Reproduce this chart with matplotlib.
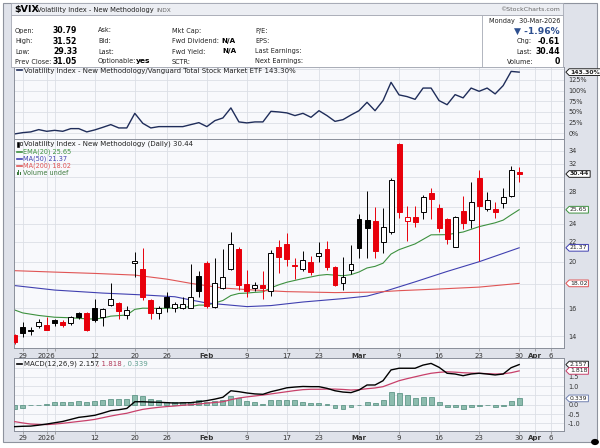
import matplotlib
matplotlib.use("Agg")
import matplotlib.pyplot as plt
import matplotlib.transforms as mtransforms
from matplotlib.patches import Rectangle, Circle
from matplotlib.lines import Line2D
from matplotlib.path import Path
import numpy as np
import pandas as pd

# daily candles 26-Dec-2025 .. 30-Mar-2026
opens = [14.07, 14.64, 14.38, 14.68, 14.76, 15.09, 14.99, 14.92, 15.66, 15.66,
         15.99, 15.31, 16.27, 16.43, 15.45, 19.85, 19.28, 16.60, 15.66, 16.85,
         16.00, 16.05, 16.00, 18.67, 19.90, 16.12, 17.60, 19.33, 21.22, 17.96,
         17.60, 17.90, 17.40, 21.43, 21.74, 19.72, 19.31, 19.97, 20.52, 21.21,
         19.52, 18.02, 19.21, 24.54, 24.42, 24.30, 22.01, 23.09, 35.16, 24.30,
         24.80, 25.34, 27.83, 25.84, 24.50, 21.43, 25.50, 24.42, 29.80, 25.74,
         25.71, 26.46, 27.40, 30.79]
highs = [14.15, 14.99, 14.60, 15.17, 15.36, 15.20, 15.10, 15.40, 15.74, 15.74,
         16.69, 16.00, 18.08, 16.50, 16.20, 20.98, 21.35, 16.70, 16.20, 17.32,
         16.50, 16.90, 19.75, 19.15, 20.10, 20.32, 21.22, 23.09, 21.45, 19.23,
         18.10, 19.14, 21.15, 22.19, 22.91, 20.33, 21.08, 20.52, 22.01, 22.11,
         19.59, 20.47, 21.66, 25.13, 28.10, 26.04, 25.84, 29.80, 35.38, 26.11,
         26.11, 27.53, 28.43, 26.36, 24.60, 24.89, 27.40, 29.34, 31.04, 27.97,
         26.66, 28.43, 31.64, 31.52]
lows = [13.50, 13.95, 14.07, 14.53, 14.40, 14.68, 14.64, 14.74, 15.20, 14.36,
        14.99, 14.68, 16.20, 15.20, 15.20, 18.60, 16.65, 15.20, 15.20, 15.74,
        15.74, 15.95, 16.00, 16.90, 16.00, 16.00, 17.55, 19.20, 17.45, 16.90,
        17.35, 16.70, 16.95, 18.90, 19.59, 18.39, 19.15, 18.75, 19.99, 19.21,
        17.83, 17.45, 18.85, 20.33, 20.33, 20.33, 20.88, 22.83, 24.65, 22.11,
        23.58, 24.50, 24.50, 23.09, 21.74, 21.43, 23.36, 23.46, 20.09, 25.50,
        24.62, 25.90, 27.30, 29.33]
closes = [13.60, 14.19, 14.35, 14.95, 14.44, 14.87, 14.73, 15.31, 15.36, 14.41,
          15.11, 15.92, 16.72, 15.75, 15.85, 20.05, 16.85, 15.62, 16.04, 16.12,
          16.30, 16.35, 16.85, 17.37, 16.20, 18.02, 18.60, 21.73, 17.88, 17.40,
          17.88, 17.65, 20.82, 20.47, 20.25, 19.55, 20.16, 19.07, 20.88, 19.52,
          17.87, 18.54, 19.75, 21.32, 23.46, 21.08, 23.64, 29.62, 25.41, 24.80,
          24.15, 27.23, 27.01, 23.46, 22.30, 24.77, 24.03, 26.66, 26.11, 26.88,
          25.34, 27.30, 31.05, 30.44]

# $VIX : VTI ratio, % change
ratio_pct = [-1.4, 1.6, 3.3, 8.7, 4.7, 7.0, 4.7, 11.0, 11.0, 3.3,
             8.0, 14.0, 20.4, 12.6, 12.6, 46.8, 23.4, 12.6, 15.7, 15.7,
             15.7, 15.7, 20.4, 25.0, 15.7, 29.7, 36.0, 59.5, 26.7, 24.4,
             26.7, 26.7, 51.5, 50.0, 47.8, 41.5, 46.8, 37.5, 53.0, 41.5,
             28.0, 32.0, 43.0, 53.0, 72.6, 53.0, 76.6, 119.4, 90.0, 86.0,
             79.6, 106.0, 106.0, 76.6, 67.0, 90.6, 83.0, 106.0, 98.4, 106.0,
             92.3, 111.7, 145.0, 143.3]

# overlays (day index, value)
ema20_at = [0, 1, 3, 5, 7, 9, 10, 11, 12, 13, 14, 15, 16, 18, 20, 22, 23, 24, 25, 26,
            27, 28, 29, 30, 31, 32, 33, 34, 36, 38, 39, 41, 42, 43, 44, 45, 46, 47, 48, 50,
            52, 54, 56, 58, 60, 61, 62, 63]
ema20 = [15.86, 15.64, 15.45, 15.32, 15.28, 15.20, 15.19, 15.26, 15.40, 15.44,
         15.48, 15.91, 16.00, 15.98, 16.01, 16.12, 16.24, 16.23, 16.40, 16.60,
         17.00, 17.17, 17.20, 17.26, 17.30, 17.64, 17.90, 18.12, 18.44, 18.73,
         18.80, 18.69, 18.79, 19.03, 19.40, 19.55, 19.85, 20.74, 21.18, 21.77,
         22.74, 22.76, 23.05, 23.65, 24.09, 24.40, 25.03, 25.65]
ma50_at = [0, 5, 11, 16, 20, 22, 24, 29, 32, 36, 41, 44, 46, 50, 54, 58, 63]
ma50 = [17.83, 17.45, 17.20, 17.05, 16.90, 16.64, 16.40, 16.12, 16.20, 16.48,
        16.75, 16.95, 17.30, 18.15, 19.08, 19.99, 21.37]
ma200_at = [0, 5, 10, 15, 19, 22, 26, 30, 34, 40, 45, 48, 53, 58, 63]
ma200 = [19.15, 19.02, 18.90, 18.75, 18.39, 18.02, 17.62, 17.45, 17.32, 17.24,
         17.28, 17.40, 17.54, 17.70, 18.02]

macd = [-1.18, -1.16, -1.15, -1.10, -1.04, -0.97, -0.90, -0.79, -0.68, -0.63,
        -0.57, -0.45, -0.32, -0.27, -0.20, 0.16, 0.16, 0.14, 0.13, 0.11,
        0.09, 0.10, 0.11, 0.16, 0.22, 0.30, 0.40, 0.75, 0.70, 0.63,
        0.58, 0.56, 0.70, 0.80, 0.91, 0.95, 0.98, 0.97, 0.97, 0.88,
        0.75, 0.68, 0.65, 0.79, 1.06, 1.06, 1.29, 1.87, 1.96, 1.96,
        1.96, 2.13, 2.22, 2.01, 1.69, 1.65, 1.56, 1.65, 1.69, 1.65,
        1.60, 1.65, 1.99, 2.157]
macd_signal = [-0.91, -0.98, -1.04, -1.06, -1.07, -1.04, -1.00, -0.95, -0.90, -0.85,
               -0.79, -0.70, -0.61, -0.53, -0.46, -0.35, -0.25, -0.19, -0.14, -0.10,
               -0.07, -0.03, 0.00, 0.04, 0.08, 0.12, 0.16, 0.27, 0.36, 0.42,
               0.47, 0.52, 0.58, 0.64, 0.70, 0.76, 0.81, 0.83, 0.83, 0.84,
               0.84, 0.82, 0.79, 0.81, 0.86, 0.90, 0.97, 1.13, 1.29, 1.40,
               1.50, 1.60, 1.69, 1.74, 1.77, 1.75, 1.72, 1.70, 1.69, 1.67,
               1.65, 1.66, 1.72, 1.818]
macd_hist = [-0.22, -0.16, -0.04, -0.02, 0.02, 0.13, 0.14, 0.16, 0.20, 0.16,
             0.20, 0.25, 0.32, 0.32, 0.30, 0.54, 0.45, 0.30, 0.23, 0.16,
             0.14, 0.14, 0.16, 0.23, 0.14, 0.20, 0.27, 0.45, 0.36, 0.18,
             0.13, 0.05, 0.23, 0.27, 0.27, 0.23, 0.14, 0.07, 0.10, 0.04,
             -0.18, -0.22, -0.14, -0.04, 0.14, 0.10, 0.25, 0.66, 0.63, 0.54,
             0.36, 0.39, 0.39, 0.14, -0.14, -0.14, -0.23, -0.11, -0.05, -0.04,
             -0.11, -0.07, 0.18, 0.339]

tick_days = ["2025-12-29", "2026-01-02", "2026-01-12", "2026-01-20", "2026-01-26",
             "2026-02-02", "2026-02-09", "2026-02-17", "2026-02-23", "2026-03-02",
             "2026-03-09", "2026-03-16", "2026-03-23", "2026-03-30", "2026-04-01",
             "2026-04-06", "2026-01-05"]
tick_labels = ["29", "2026", "12", "20", "26", "Feb", "9", "17", "23", "Mar",
               "9", "16", "23", "30", "Apr", "6", ""]
holidays = ["2026-01-01", "2026-01-19", "2026-02-16", "2026-04-03"]

# right-axis levels (labels hidden under the value tags stay blank)
price_levels = [14, 16, 18, 20, 22, 24, 26, 28, 30, 32, 34]
price_labels = ["14", "16", "", "20", "22", "24", "", "28", "", "32", "34"]
ratio_levels = [0, 25, 50, 75, 100, 125, 150]
ratio_labels = ["0%", "25%", "50%", "75%", "100%", "125%", ""]
macd_levels = [-1.0, -0.5, 0.0, 0.5, 1.0, 1.5, 2.0]
macd_labels = ["-1.0", "-0.5", "0.0", "", "1.0", "1.5", ""]

days = pd.bdate_range("2025-12-26", "2026-04-10")
days = days[~days.isin(pd.to_datetime(holidays))]
dpos = {d.strftime("%Y-%m-%d"): i for i, d in enumerate(days)}
xt = [dpos[d] for d in tick_days]

plt.rcParams["font.family"] = "DejaVu Sans"
W, H = 600, 448
fig = plt.figure(figsize=(6, 4.48), dpi=100, facecolor="white")


def prect(x0, y0, x1, y1, **kw):
    fig.add_artist(Rectangle((x0 / W, 1 - y1 / H), (x1 - x0) / W, (y1 - y0) / H,
                             transform=fig.transFigure, **kw))


def ptext(x, y, s, **kw):
    kw.setdefault("va", "center")
    kw.setdefault("fontsize", 4.7)
    kw.setdefault("color", "#222222")
    fig.text(x / W, 1 - y / H, s, **kw)


def pline(x0, x1, y, **kw):
    fig.add_artist(Line2D([x0 / W, x1 / W], [1 - y / H, 1 - y / H],
                          transform=fig.transFigure, **kw))


def tag_box(x0, y0, width, height, mutation_size):
    pad = 0.14 * mutation_size
    x0, y0 = x0 - pad, y0 - pad
    x1, y1 = x0 + width + 2 * pad, y0 + height + 2 * pad
    tip = (y1 - y0) / 2
    return Path([(x0, y0), (x1, y0), (x1, y1), (x0, y1), (x0 - tip, (y0 + y1) / 2), (x0, y0)],
                closed=True)


def tag(ax, y, txt, ec, bold=False):
    tr = mtransforms.blended_transform_factory(ax.transAxes, ax.transData)
    ax.text(1.011, y, txt, transform=tr, ha="left", va="center", fontsize=4.4,
            fontweight="bold" if bold else "normal", color="#222222",
            bbox=dict(boxstyle=tag_box, fc="white", ec=ec, lw=0.7),
            clip_on=False, zorder=6)


# frame + header
prect(3, 3, 597, 442, fc="#dfe2ea", ec="#8e939e", lw=0.8, zorder=-5)
prect(11, 3.5, 563, 15.5, fc="#eceef3", ec="#a5a9b4", lw=0.6, zorder=1)
prect(11, 15.5, 563, 67, fc="white", ec="#a5a9b4", lw=0.6, zorder=1)
prect(482, 15.5, 563, 67, fc="white", ec="#a5a9b4", lw=0.6, zorder=1)

ptext(14, 9.5, "$VIX", fontsize=6.8, fontweight="bold", color="black")
ptext(37, 9.8, "Volatility Index - New Methodology", fontsize=4.9)
ptext(156, 10, "INDX", fontsize=4.2, color="#666666")
ptext(560, 9.5, "\u00a9StockCharts.com", fontsize=4.5, color="#666666", ha="right")

rows = [30.5, 41, 51.5, 61.5]
for y, lab, val in zip(rows, ["Open:", "High:", "Low:", "Prev Close:"],
                       ["30.79", "31.52", "29.33", "31.05"]):
    ptext(15, y, lab)
    ptext(53, y, val, fontweight="bold", fontsize=5.6, color="black")
for y, lab in zip(rows, ["Ask:", "Bid:", "Last:", "Optionable:"]):
    ptext(98, y, lab)
ptext(136, rows[3], "yes", fontweight="bold", fontsize=5.4, color="black")
for y, lab in zip(rows, ["Mkt Cap:", "Fwd Dividend:", "Fwd Yield:", "SCTR:"]):
    ptext(172, y, lab)
ptext(221, rows[1], "N/A", fontweight="bold", fontsize=5.1, color="black")
ptext(222, rows[2], "N/A", fontweight="bold", fontsize=5.1, color="black")
for y, lab in zip(rows, ["P/E:", "EPS:", "Last Earnings:", "Next Earnings:"]):
    ptext(255, y, lab)

ptext(560, 20.5, "Monday  30-Mar-2026", ha="right")
ptext(560, 31, "\u25bc -1.96%", ha="right", fontsize=6.6, fontweight="bold", color="#2d4f8f")
ptext(517, 41.5, "Chg:")
ptext(560, 41.5, "-0.61", ha="right", fontweight="bold", fontsize=5.6, color="black")
ptext(516, 51.5, "Last:")
ptext(560, 51.5, "30.44", ha="right", fontweight="bold", fontsize=5.6, color="black")
ptext(507, 61.5, "Volume:")
ptext(560, 61.5, "0", ha="right", fontweight="bold", fontsize=5.6, color="black")

# panels
L, R = 13.5, 564
ax_top = fig.add_axes([L / W, 1 - 139 / H, (R - L) / W, 72 / H])
ax_main = fig.add_axes([L / W, 1 - 348.3 / H, (R - L) / W, (348.3 - 139) / H])
ax_macd = fig.add_axes([L / W, 1 - 430.5 / H, (R - L) / W, (430.5 - 358.3) / H])

for ax in (ax_top, ax_main, ax_macd):
    ax.set_facecolor("#f8f9fc")
    for s in ax.spines.values():
        s.set_color("#8a8f9a")
        s.set_linewidth(0.7)
    ax.set_xlim(-0.15, 68.6)
    ax.set_xticks(xt)
    ax.grid(True, color="#dcdfe6", lw=0.6)
    ax.set_axisbelow(True)
    ax.yaxis.tick_right()
    ax.tick_params(axis="y", length=0, pad=3, labelsize=4.7, labelcolor="#333333")
    ax.tick_params(axis="x", length=2, width=0.5, color="#888888", pad=1.5,
                   labelsize=5, labelcolor="#333333")

x = np.arange(len(closes))

# ratio panel
ax_top.plot(x, ratio_pct, color="#1f2d5a", lw=1.0)
ax_top.set_ylim(-13.3, 155.3)
ax_top.set_yticks(ratio_levels)
ax_top.set_yticklabels(ratio_labels)
ax_top.tick_params(axis="x", labelbottom=False, length=0)
tag(ax_top, ratio_pct[-1], "143.30%", "#222222", bold=True)

# candles
o, h, l, c = map(np.array, (opens, highs, lows, closes))
prev = np.r_[o[0], c[:-1]]
col = np.where(c < prev, "#e8000b", "#000000")
face = np.where(c < o, col, "white")
ax_main.vlines(x, l, h, colors=col, lw=0.7, zorder=3)
ax_main.bar(x, np.abs(c - o), bottom=np.minimum(o, c), width=0.62, color=face,
            edgecolor=col, lw=0.7, zorder=4)
ax_main.plot(ema20_at, ema20, color="#3d913f", lw=0.8, zorder=2)
ax_main.plot(ma50_at, ma50, color="#4040b0", lw=0.8, zorder=2)
ax_main.plot(ma200_at, ma200, color="#e05555", lw=0.8, zorder=2)
ax_main.set_yscale("log")
ax_main.set_ylim(13.2, 36.0)
ax_main.set_yticks(price_levels)
ax_main.set_yticklabels(price_labels)
ax_main.yaxis.set_minor_locator(matplotlib.ticker.NullLocator())
tag(ax_main, closes[-1], "30.44", "#222222", bold=True)
tag(ax_main, ema20[-1], "25.65", "#3d913f")
tag(ax_main, ma50[-1], "21.37", "#4040b0")
tag(ax_main, ma200[-1], "18.02", "#e05555")

# MACD
ax_macd.bar(x, macd_hist, width=0.62, color="#8dbcae", edgecolor="#4d8a7a", lw=0.5, zorder=2)
ax_macd.plot(x, macd_signal, color="#c8406a", lw=0.9, zorder=3)
ax_macd.plot(x, macd, color="black", lw=1.0, zorder=4)
ax_macd.set_ylim(-1.387, 2.495)
ax_macd.set_yticks(macd_levels)
ax_macd.set_yticklabels(macd_labels)
tag(ax_macd, macd[-1], "2.157", "#222222")
tag(ax_macd, macd_signal[-1], "1.818", "#c8406a")
tag(ax_macd, macd_hist[-1], "0.339", "#7080b0")

for ax in (ax_main, ax_macd):
    ax.set_xticklabels(tick_labels)
    for t in ax.get_xticklabels():
        if not t.get_text().isdigit():
            t.set_fontweight("bold")

# legends inside panels
pline(17, 22, 70.5, color="#1f2d5a", lw=1.2)
ptext(24, 70.5, "Volatility Index - New Methodology/Vanguard Total Stock Market ETF 143.30%",
      fontsize=5)

prect(16.5, 141.5, 18.5, 146.5, fc="black", ec="black", lw=0.4, zorder=5)
prect(19.5, 142.5, 21.5, 145.5, fc="white", ec="black", lw=0.4, zorder=5)
ptext(24, 144, "Volatility Index - New Methodology (Daily) 30.44", fontsize=5)
pline(17, 22, 151.6, color="#3d913f", lw=1.2)
ptext(23, 151.6, "EMA(20) 25.65", color="#3d913f")
pline(17, 22, 158.6, color="#4040b0", lw=1.2)
ptext(23, 158.6, "MA(50) 21.37", color="#4040b0")
pline(17, 22, 165.6, color="#e05555", lw=1.2)
ptext(23, 165.6, "MA(200) 18.02", color="#e05555")
for bx, bh in [(16.5, 3), (18.2, 4.5), (19.9, 2.5)]:
    prect(bx, 175 - bh, bx + 1.2, 175, fc="#3d7a3d", ec="none", zorder=5)
ptext(23, 172.8, "Volume undef", color="#3d7a3d")

pline(17, 22, 363.5, color="black", lw=1.2)
ptext(24, 363.5, "MACD(12,26,9) 2.157", fontsize=5)
ptext(97, 363.5, ", 1.818", color="#b03a5a", fontsize=5)
ptext(123, 363.5, ", 0.339", color="#5f9f8f", fontsize=5)

fig.add_artist(Circle((595 / W, 1 - 442 / H), 3.2 / W, transform=fig.transFigure,
                      color="black", zorder=2))

fig.savefig("out.png", dpi=100)
